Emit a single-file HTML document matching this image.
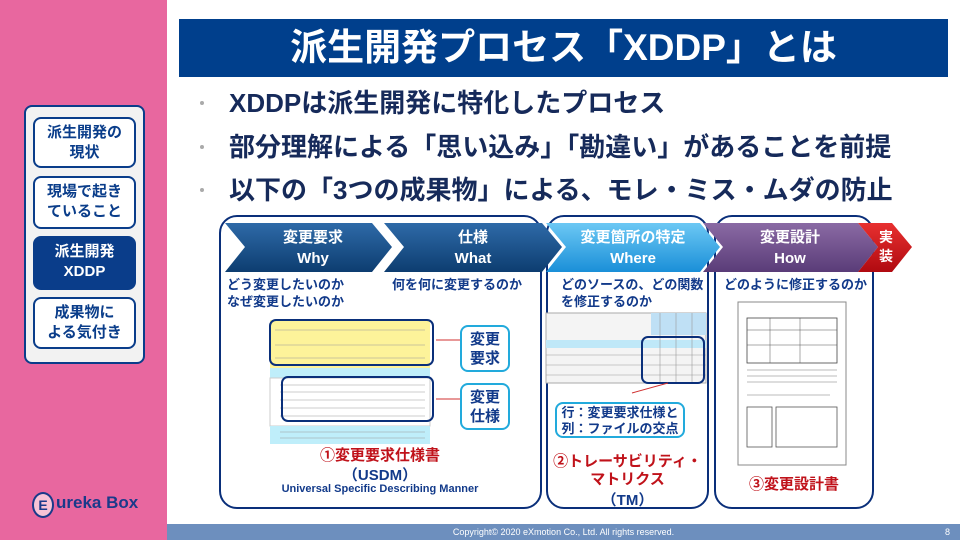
<!DOCTYPE html>
<html><head><meta charset="utf-8"><style>
*{margin:0;padding:0;box-sizing:border-box}
body{width:960px;height:540px;position:relative;overflow:hidden;background:#fff;font-family:"Liberation Sans","Noto Sans CJK JP",sans-serif}
.a{position:absolute}
.side{left:0;top:0;width:167px;height:540px;background:#E8679F}
.panel{left:24px;top:105px;width:121px;height:259px;background:#f2f2f2;border:2px solid #0a3d8a;border-radius:8px}
.it{left:33px;width:103px;border:2px solid #0a3d8a;border-radius:8px;background:#fff;color:#0a3d8a;font-weight:bold;font-size:15px;line-height:20px;text-align:center;padding-top:4px}
.title{left:179px;top:19px;width:769px;height:58px;background:#003F8C;color:#fff;font-size:37px;font-weight:bold;text-align:center;line-height:58px}
.bul{left:203px;color:#162a5a;font-size:26px;font-weight:bold;white-space:nowrap;line-height:30px}
.bul span{position:absolute;left:-3px;top:13px;width:4px;height:4px;background:#aaa;border-radius:50%}
.box{top:215px;height:294px;border:2px solid #0a2f7a;border-radius:18px}
.lbl{color:#123a8a;font-weight:bold;font-size:13px;line-height:17px;white-space:nowrap}
.red{color:#c0121a;font-weight:bold;font-size:15px;text-align:center;line-height:18px}
.foot{left:167px;top:524px;width:793px;height:16px;background:#6D8FBE;color:#fff;font-size:9px;line-height:16px;text-align:center}
.cb{border:2px solid #22aadc;border-radius:8px;background:#fff;color:#123a8a;font-weight:bold;text-align:center}
</style></head><body>
<div class="a side"></div>
<div class="a panel"></div>
<div class="a it" style="top:117px;height:51px">派生開発の<br>現状</div>
<div class="a it" style="top:176px;height:53px">現場で起き<br>ていること</div>
<div class="a it" style="top:236px;height:54px;background:#0a3d8a;color:#fff">派生開発<br>XDDP</div>
<div class="a it" style="top:297px;height:52px">成果物に<br>よる気付き</div>
<div class="a" style="left:32px;top:492px;width:22px;height:26px;border:2px solid #1a3a8a;border-radius:50%;background:#f7c3d6;color:#1a3a8a;font-weight:bold;font-size:14px;text-align:center;line-height:22px">E</div>
<div class="a" style="left:56px;top:493px;color:#1a3a8a;font-weight:bold;font-size:17px">ureka Box</div>
<div class="a title">派生開発プロセス「XDDP」とは</div>
<div class="a bul" style="top:88px"><span></span>　XDDPは派生開発に特化したプロセス</div>
<div class="a bul" style="top:132px"><span></span>　部分理解による「思い込み」「勘違い」があることを前提</div>
<div class="a bul" style="top:175px"><span></span>　以下の「3つの成果物」による、モレ・ミス・ムダの防止</div>
<div class="a box" style="left:219px;width:323px"></div>
<div class="a box" style="left:546px;width:163px"></div>
<div class="a box" style="left:714px;width:160px"></div>
<svg class="a" style="left:0;top:0" width="960" height="540">
<defs>
<linearGradient id="g1" x1="0" y1="0" x2="0" y2="1"><stop offset="0" stop-color="#2e6aa8"/><stop offset="1" stop-color="#0d3d70"/></linearGradient>
<linearGradient id="g2" x1="0" y1="0" x2="0" y2="1"><stop offset="0" stop-color="#6cc8f4"/><stop offset="1" stop-color="#1a8fd8"/></linearGradient>
<linearGradient id="g3" x1="0" y1="0" x2="0" y2="1"><stop offset="0" stop-color="#8a6aa4"/><stop offset="1" stop-color="#5a3c78"/></linearGradient>
<linearGradient id="g4" x1="0" y1="0" x2="0" y2="1"><stop offset="0" stop-color="#e83030"/><stop offset="1" stop-color="#b00a10"/></linearGradient>
</defs>
<polygon points="225,223 372,223 392,247 372,272 225,272 245,247" fill="url(#g1)"/>
<polygon points="384,223 542,223 562,247 542,272 384,272 404,247" fill="url(#g1)"/>
<polygon points="546,223 700,223 720,247 700,272 546,272 566,247" fill="url(#g2)"/>
<polygon points="703,223 858,223 878,247 858,272 703,272 723,247" fill="url(#g3)"/>
<polygon points="858,223 892,223 912,247 892,272 858,272 878,247" fill="url(#g4)"/>
<g fill="#fff" font-weight="bold" font-size="15" text-anchor="middle" font-family="Liberation Sans,Noto Sans CJK JP,sans-serif">
<text x="313" y="242">変更要求</text><text x="313" y="263">Why</text>
<text x="473" y="242">仕様</text><text x="473" y="263">What</text>
<text x="633" y="242">変更箇所の特定</text><text x="633" y="263">Where</text>
<text x="790" y="242">変更設計</text><text x="790" y="263">How</text>
<text x="886" y="242" font-size="14">実</text><text x="886" y="261" font-size="14">装</text>
</g>
<rect x="270" y="320" width="160" height="48" fill="#fdf39a"/>
<rect x="270" y="368" width="160" height="10" fill="#bfeefa"/>
<rect x="270" y="378" width="160" height="48" fill="#fff" stroke="#ccc"/>
<rect x="270" y="426" width="160" height="18" fill="#bfeefa"/>
<g stroke="#999" stroke-width="0.6">
<line x1="275" y1="330" x2="425" y2="330"/><line x1="275" y1="345" x2="425" y2="345"/><line x1="275" y1="358" x2="425" y2="358"/>
<line x1="280" y1="385" x2="425" y2="385"/><line x1="280" y1="392" x2="425" y2="392"/><line x1="280" y1="400" x2="425" y2="400"/><line x1="280" y1="408" x2="425" y2="408"/><line x1="280" y1="416" x2="425" y2="416"/>
<line x1="280" y1="432" x2="425" y2="432"/><line x1="280" y1="438" x2="425" y2="438"/></g>
<rect x="270" y="320" width="163" height="45" rx="6" fill="none" stroke="#0a2f7a" stroke-width="2"/>
<rect x="282" y="377" width="151" height="44" rx="6" fill="none" stroke="#0a2f7a" stroke-width="2"/>
<line x1="460" y1="340" x2="436" y2="340" stroke="#d03030"/><line x1="460" y1="399" x2="436" y2="399" stroke="#d03030"/>
<rect x="546" y="313" width="160" height="70" fill="#f4f4f4" stroke="#aaa"/>
<rect x="651" y="313" width="55" height="22" fill="#bfe0f5"/>
<rect x="546" y="340" width="160" height="8" fill="#bfe8f8"/>
<g stroke="#999" stroke-width="0.6"><line x1="546" y1="355" x2="706" y2="355"/><line x1="546" y1="365" x2="706" y2="365"/><line x1="546" y1="375" x2="706" y2="375"/><line x1="660" y1="313" x2="660" y2="383"/><line x1="676" y1="313" x2="676" y2="383"/><line x1="692" y1="313" x2="692" y2="383"/></g>
<rect x="642" y="337" width="62" height="46" rx="6" fill="none" stroke="#0a2f7a" stroke-width="2"/>
<line x1="632" y1="393" x2="668" y2="383" stroke="#d03030"/>
<rect x="738" y="302" width="108" height="163" fill="#fff" stroke="#888"/>
<rect x="747" y="318" width="90" height="45" fill="none" stroke="#444" stroke-width="0.8"/>
<g stroke="#555" stroke-width="0.5"><line x1="747" y1="330" x2="837" y2="330"/><line x1="747" y1="345" x2="837" y2="345"/><line x1="770" y1="318" x2="770" y2="363"/><line x1="800" y1="318" x2="800" y2="363"/></g>
<g stroke="#bbb" stroke-width="1"><line x1="747" y1="370" x2="837" y2="370"/><line x1="747" y1="376" x2="837" y2="376"/><line x1="747" y1="382" x2="837" y2="382"/><line x1="747" y1="395" x2="830" y2="395"/></g>
<rect x="747" y="407" width="25" height="40" fill="none" stroke="#555" stroke-width="0.8"/>
<rect x="776" y="407" width="61" height="40" fill="none" stroke="#555" stroke-width="0.8"/>
</svg>
<div class="a lbl" style="left:227px;top:276px">どう変更したいのか<br>なぜ変更したいのか</div>
<div class="a lbl" style="left:392px;top:276px">何を何に変更するのか</div>
<div class="a lbl" style="left:561px;top:276px">どのソースの、どの関数<br>を修正するのか</div>
<div class="a lbl" style="left:724px;top:276px">どのように修正するのか</div>
<div class="a cb" style="left:460px;top:325px;width:50px;height:47px;font-size:15px;line-height:19px;padding-top:3px">変更<br>要求</div>
<div class="a cb" style="left:460px;top:383px;width:50px;height:47px;font-size:15px;line-height:19px;padding-top:3px">変更<br>仕様</div>
<div class="a cb" style="left:555px;top:402px;width:130px;height:36px;font-size:13px;line-height:16px;padding-top:1px">行：変更要求仕様と<br>列：ファイルの交点</div>
<div class="a red" style="left:280px;top:447px;width:200px">①変更要求仕様書</div>
<div class="a" style="left:280px;top:464px;width:200px;text-align:center;color:#123a8a;font-weight:bold;font-size:15px">（USDM）</div>
<div class="a" style="left:230px;top:483px;width:300px;text-align:center;color:#123a8a;font-weight:bold;font-size:11px">Universal Specific Describing Manner</div>
<div class="a red" style="left:546px;top:453px;width:163px">②トレーサビリティ・<br>マトリクス</div>
<div class="a" style="left:546px;top:489px;width:163px;text-align:center;color:#123a8a;font-weight:bold;font-size:15px">（TM）</div>
<div class="a red" style="left:714px;top:476px;width:160px">③変更設計書</div>
<div class="a foot">Copyright© 2020 eXmotion Co., Ltd. All rights reserved.<span style="position:absolute;right:10px">8</span></div>
</body></html>
